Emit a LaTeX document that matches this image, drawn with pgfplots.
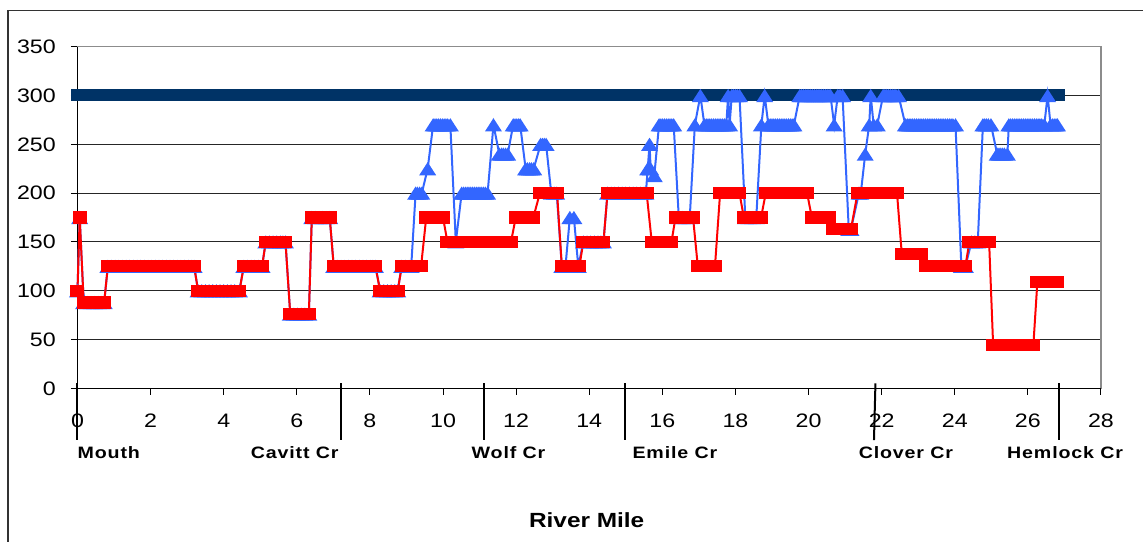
\documentclass[border=0pt]{standalone}
\usepackage{fontspec}
\setmainfont{Liberation Sans}[FakeStretch=1.19]
\newfontfamily\creekfont{Liberation Sans}[FakeStretch=1.19,LetterSpace=5]
\usepackage{pgfplots}
\pgfplotsset{compat=1.18}
\definecolor{navy}{HTML}{003366}
\definecolor{xlblue}{HTML}{3366FF}
\definecolor{xlred}{HTML}{FF0000}
\pgfdeclareplotmark{xltri}{%
  \pgfpathmoveto{\pgfqpoint{-8.5pt}{-6.6pt}}%
  \pgfpathlineto{\pgfqpoint{8.5pt}{-6.6pt}}%
  \pgfpathlineto{\pgfqpoint{0pt}{6.6pt}}%
  \pgfpathclose\pgfusepathqfill}
\pgfdeclareplotmark{xlrect}{%
  \pgfsetcornersarced{\pgfqpoint{2pt}{2pt}}%
  \pgfpathrectangle{\pgfqpoint{-7pt}{-6.1pt}}{\pgfqpoint{14pt}{12.2pt}}%
  \pgfusepathqfill}
\begin{document}
\begin{tikzpicture}
\draw[black!80, line width=1.5pt] (8pt,-30pt) rectangle (1180pt,530.5pt);
\begin{axis}[
  at={(77.5pt,152.7pt)}, anchor=south west,
  scale only axis, width=1023.5pt, height=341.6pt,
  xmin=0, xmax=28, ymin=0, ymax=350,
  xtick={0,2,...,28}, ytick={0,50,...,350},
  tick pos=left, tick align=outside,
  major tick length=6.5pt,
  tick style={black, line width=1pt},
  ymajorgrids, grid style={black!85, line width=0.9pt},
  axis line style={black!45, line width=1.6pt},
  clip=false,
  /pgf/number format/assume math mode=true,
  tick label style={font=\fontsize{19.5}{21}\selectfont},
  yticklabel style={anchor=east, inner sep=0pt, xshift=-15pt},
  xticklabel style={anchor=north, inner sep=0pt, yshift=-19pt},
]
\draw[black, line width=1.6pt] (rel axis cs:0,1) -- (rel axis cs:0,0) -- (rel axis cs:1,0);
% creek marker lines
\addplot[black, line width=2pt, mark=none] coordinates {(0,5) (0,-53)};
\addplot[black, line width=2pt, mark=none] coordinates {(7.22,5) (7.22,-53)};
\addplot[black, line width=2pt, mark=none] coordinates {(11.12,5) (11.12,-53)};
\addplot[black, line width=2pt, mark=none] coordinates {(14.99,5) (14.99,-53)};
\addplot[black, line width=2pt, mark=none] coordinates {(21.83,5) (21.79,-53)};
\addplot[black, line width=2pt, mark=none] coordinates {(26.85,5) (26.85,-53)};
% navy reference line
\addplot[navy, line width=12pt, line cap=rect, mark=none] coordinates {(0,300) (26.84,300)};
% blue series
\addplot[xlblue, line width=2pt, mark=xltri, mark options={xlblue}] coordinates {
(0,100)(0.06,175)
(0.17,88)(0.27,88)(0.37,88)(0.47,88)(0.57,88)(0.65,88)(0.73,88)
(0.83,125)(0.93,125)(1.03,125)(1.13,125)(1.23,125)(1.33,125)(1.43,125)(1.53,125)(1.63,125)(1.73,125)(1.83,125)(1.93,125)(2.03,125)(2.13,125)(2.23,125)(2.33,125)(2.43,125)(2.53,125)(2.63,125)(2.73,125)(2.83,125)(2.93,125)(3.03,125)(3.13,125)(3.19,125)
(3.3,100)(3.4,100)(3.5,100)(3.6,100)(3.7,100)(3.8,100)(3.9,100)(4.0,100)(4.1,100)(4.2,100)(4.3,100)(4.43,100)
(4.55,125)(4.65,125)(4.75,125)(4.85,125)(4.95,125)(5.05,125)
(5.15,150)(5.25,150)(5.35,150)(5.45,150)(5.55,150)(5.62,150)(5.69,150)
(5.82,76)(5.92,76)(6.02,76)(6.12,76)(6.22,76)(6.33,76)
(6.41,175)(6.51,175)(6.61,175)(6.71,175)(6.81,175)(6.9,175)
(7.01,125)(7.11,125)(7.21,125)(7.31,125)(7.41,125)(7.51,125)(7.61,125)(7.71,125)(7.81,125)(7.91,125)(8.01,125)(8.08,125)(8.15,125)
(8.28,100)(8.38,100)(8.48,100)(8.58,100)(8.68,100)(8.76,100)
(8.87,125)(8.97,125)(9.07,125)(9.13,125)
(9.25,200)(9.3,200)(9.36,200)(9.42,200)
(9.58,225)
(9.73,270)(9.78,270)(9.83,270)(9.88,270)(9.93,270)(9.98,270)(10.03,270)(10.08,270)(10.13,270)(10.2,270)
(10.35,150)
(10.51,200)(10.56,200)(10.61,200)(10.66,200)(10.71,200)(10.76,200)(10.81,200)(10.86,200)(10.91,200)(10.96,200)(11.01,200)(11.06,200)(11.11,200)(11.16,200)(11.22,200)
(11.38,270)
(11.54,240)(11.6,240)(11.65,240)(11.71,240)(11.77,240)
(11.92,270)(11.97,270)(12.02,270)(12.07,270)(12.11,270)
(12.26,225)(12.31,225)(12.37,225)(12.42,225)(12.48,225)
(12.67,250)(12.72,250)(12.77,250)(12.82,250)
(12.96,200)(13.04,200)(13.11,200)
(13.25,125)(13.35,125)
(13.47,175)(13.58,175)
(13.7,125)
(13.84,150)(13.94,150)(14.04,150)(14.14,150)(14.24,150)(14.32,150)(14.39,150)
(14.5,200)(14.6,200)(14.7,200)(14.8,200)(14.9,200)(15.0,200)(15.1,200)(15.2,200)(15.3,200)(15.4,200)(15.5,200)(15.55,200)
(15.6,225)(15.65,250)(15.68,225)(15.78,218)
(15.91,270)(15.96,270)(16.01,270)(16.06,270)(16.11,270)(16.16,270)(16.21,270)(16.26,270)(16.31,270)
(16.45,175)(16.55,175)(16.65,175)(16.75,175)
(16.89,270)(17.04,300)
(17.15,270)(17.2,270)(17.25,270)(17.3,270)(17.35,270)(17.4,270)(17.45,270)(17.5,270)(17.55,270)(17.6,270)(17.65,270)(17.7,270)(17.75,270)
(17.8,300)(17.84,270)
(17.9,300)(17.95,300)(18.0,300)(18.05,300)(18.11,300)
(18.27,175)(18.37,175)(18.47,175)(18.57,175)
(18.71,270)(18.8,300)
(18.9,270)(18.95,270)(19.0,270)(19.05,270)(19.1,270)(19.15,270)(19.2,270)(19.25,270)(19.3,270)(19.35,270)(19.4,270)(19.45,270)(19.5,270)(19.55,270)(19.6,270)
(19.76,300)(19.81,300)(19.86,300)(19.91,300)(19.96,300)(20.01,300)(20.06,300)(20.11,300)(20.16,300)(20.21,300)(20.26,300)(20.31,300)(20.36,300)(20.41,300)(20.46,300)(20.51,300)(20.56,300)(20.6,300)
(20.7,270)
(20.8,300)(20.86,300)(20.93,300)
(21.1,163)(21.16,163)
(21.38,200)(21.43,200)
(21.55,240)(21.66,270)(21.7,300)(21.78,270)(21.88,270)
(22.04,300)(22.09,300)(22.14,300)(22.19,300)(22.24,300)(22.29,300)(22.34,300)(22.39,300)(22.46,300)
(22.65,270)(22.7,270)(22.75,270)(22.8,270)(22.85,270)(22.9,270)(22.95,270)(23.0,270)(23.05,270)(23.1,270)(23.15,270)(23.2,270)(23.25,270)(23.3,270)(23.35,270)(23.4,270)(23.45,270)(23.5,270)(23.55,270)(23.6,270)(23.65,270)(23.7,270)(23.75,270)(23.8,270)(23.85,270)(23.9,270)(23.95,270)(24.02,270)
(24.18,125)(24.29,125)
(24.46,150)(24.55,150)(24.63,150)
(24.77,270)(24.82,270)(24.87,270)(24.92,270)(24.99,270)
(25.16,240)(25.21,240)(25.26,240)(25.31,240)(25.36,240)(25.44,240)
(25.48,270)(25.53,270)(25.58,270)(25.63,270)(25.68,270)(25.73,270)(25.78,270)(25.83,270)(25.88,270)(25.93,270)(25.98,270)(26.03,270)(26.08,270)(26.13,270)(26.18,270)(26.23,270)(26.28,270)(26.33,270)(26.38,270)(26.45,270)
(26.54,300)
(26.62,270)(26.67,270)(26.72,270)(26.77,270)(26.81,270)
};
% red series
\addplot[xlred, line width=2pt, mark=xlrect, mark options={xlred}] coordinates {
(0,100)(0.06,175)
(0.17,88)(0.27,88)(0.37,88)(0.47,88)(0.57,88)(0.65,88)(0.73,88)
(0.83,125)(0.93,125)(1.03,125)(1.13,125)(1.23,125)(1.33,125)(1.43,125)(1.53,125)(1.63,125)(1.73,125)(1.83,125)(1.93,125)(2.03,125)(2.13,125)(2.23,125)(2.33,125)(2.43,125)(2.53,125)(2.63,125)(2.73,125)(2.83,125)(2.93,125)(3.03,125)(3.13,125)(3.19,125)
(3.3,100)(3.4,100)(3.5,100)(3.6,100)(3.7,100)(3.8,100)(3.9,100)(4.0,100)(4.1,100)(4.2,100)(4.3,100)(4.43,100)
(4.55,125)(4.65,125)(4.75,125)(4.85,125)(4.95,125)(5.05,125)
(5.15,150)(5.25,150)(5.35,150)(5.45,150)(5.55,150)(5.62,150)(5.69,150)
(5.82,76)(5.92,76)(6.02,76)(6.12,76)(6.22,76)(6.33,76)
(6.41,175)(6.51,175)(6.61,175)(6.71,175)(6.81,175)(6.9,175)
(7.01,125)(7.11,125)(7.21,125)(7.31,125)(7.41,125)(7.51,125)(7.61,125)(7.71,125)(7.81,125)(7.91,125)(8.01,125)(8.08,125)(8.15,125)
(8.28,100)(8.38,100)(8.48,100)(8.58,100)(8.68,100)(8.76,100)
(8.87,125)(8.97,125)(9.07,125)(9.17,125)(9.27,125)(9.33,125)(9.4,125)
(9.54,175)(9.64,175)(9.74,175)(9.84,175)(9.94,175)(10.0,175)
(10.12,150)(10.22,150)(10.32,150)(10.42,150)(10.52,150)(10.62,150)(10.72,150)(10.82,150)(10.92,150)(11.02,150)(11.12,150)(11.22,150)(11.32,150)(11.42,150)(11.52,150)(11.62,150)(11.72,150)(11.79,150)(11.86,150)
(11.99,175)(12.09,175)(12.19,175)(12.29,175)(12.39,175)(12.47,175)
(12.65,200)(12.75,200)(12.85,200)(12.95,200)(13.05,200)(13.12,200)
(13.25,125)(13.35,125)(13.45,125)(13.55,125)(13.65,125)(13.73,125)
(13.84,150)(13.94,150)(14.04,150)(14.14,150)(14.24,150)(14.32,150)(14.39,150)
(14.5,200)(14.6,200)(14.7,200)(14.8,200)(14.9,200)(15.0,200)(15.1,200)(15.2,200)(15.3,200)(15.4,200)(15.5,200)(15.57,200)
(15.71,150)(15.81,150)(15.91,150)(16.01,150)(16.11,150)(16.18,150)(16.25,150)
(16.36,175)(16.46,175)(16.56,175)(16.66,175)(16.76,175)(16.84,175)
(16.97,125)(17.07,125)(17.17,125)(17.27,125)(17.37,125)(17.44,125)
(17.58,200)(17.68,200)(17.78,200)(17.88,200)(17.98,200)(18.05,200)(18.11,200)
(18.23,175)(18.33,175)(18.43,175)(18.53,175)(18.63,175)(18.7,175)
(18.83,200)(18.93,200)(19.03,200)(19.13,200)(19.23,200)(19.33,200)(19.43,200)(19.53,200)(19.63,200)(19.73,200)(19.83,200)(19.9,200)(19.96,200)
(20.09,175)(20.19,175)(20.29,175)(20.39,175)(20.49,175)(20.57,175)
(20.68,163)(20.78,163)(20.88,163)(20.98,163)(21.08,163)(21.16,163)
(21.34,200)(21.44,200)(21.54,200)(21.64,200)(21.74,200)(21.84,200)(21.94,200)(22.04,200)(22.14,200)(22.24,200)(22.34,200)(22.42,200)
(22.55,138)(22.65,138)(22.75,138)(22.85,138)(22.95,138)(23.01,138)(23.07,138)
(23.2,125)(23.3,125)(23.4,125)(23.5,125)(23.6,125)(23.7,125)(23.8,125)(23.9,125)(24.0,125)(24.1,125)(24.2,125)(24.29,125)
(24.4,150)(24.5,150)(24.6,150)(24.7,150)(24.8,150)(24.87,150)(24.94,150)
(25.05,44)(25.15,44)(25.25,44)(25.35,44)(25.45,44)(25.55,44)(25.65,44)(25.75,44)(25.85,44)(25.95,44)(26.05,44)(26.15,44)
(26.26,109)(26.36,109)(26.46,109)(26.56,109)(26.66,109)(26.74,109)(26.81,109)
};
% creek labels
\node[anchor=west, inner sep=0pt, font=\creekfont\bfseries\fontsize{16.5}{18}\selectfont] at (axis cs:0.0,-66.3) {Mouth};
\node[anchor=west, inner sep=0pt, font=\creekfont\bfseries\fontsize{16.5}{18}\selectfont] at (axis cs:4.74,-66.3) {Cavitt Cr};
\node[anchor=west, inner sep=0pt, font=\creekfont\bfseries\fontsize{16.5}{18}\selectfont] at (axis cs:10.78,-66.3) {Wolf Cr};
\node[anchor=west, inner sep=0pt, font=\creekfont\bfseries\fontsize{16.5}{18}\selectfont] at (axis cs:15.18,-66.3) {Emile Cr};
\node[anchor=west, inner sep=0pt, font=\creekfont\bfseries\fontsize{16.5}{18}\selectfont] at (axis cs:21.37,-66.3) {Clover Cr};
\node[anchor=west, inner sep=0pt, font=\creekfont\bfseries\fontsize{16.5}{18}\selectfont] at (axis cs:25.43,-66.3) {Hemlock Cr};
\node[inner sep=0pt, font=\bfseries\fontsize{20.5}{22}\selectfont] at (axis cs:13.93,-134.9) {River Mile};
\end{axis}
\pgfresetboundingbox
\useasboundingbox (0,0) rectangle (1143pt,541pt);
\end{tikzpicture}
\end{document}
